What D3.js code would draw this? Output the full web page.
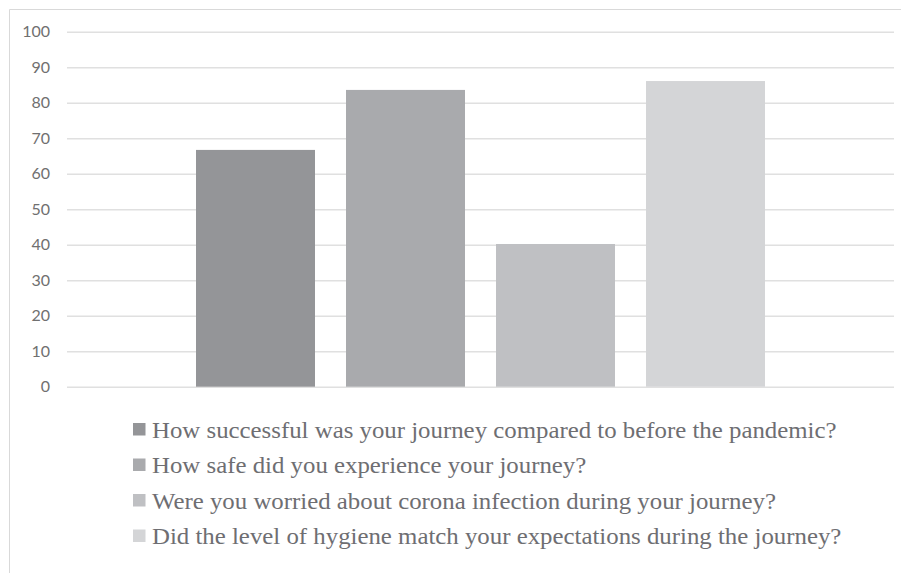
<!DOCTYPE html>
<html>
<head>
<meta charset="utf-8">
<script src="https://cdn.jsdelivr.net/npm/d3@7"></script>
<style>
  html, body { margin: 0; padding: 0; background: #fff; }
  svg { display: block; }
</style>
</head>
<body>
<svg id="chart" width="901" height="573"></svg>
<script>
// Survey questions (one series each) and their scores
const questions = [
  "How successful was your journey compared to before the pandemic?",
  "How safe did you experience your journey?",
  "Were you worried about corona infection during your journey?",
  "Did the level of hygiene match your expectations during the journey?"
];
const scores = [66.7, 83.6, 40.2, 86.1];
const yTicks = [0, 10, 20, 30, 40, 50, 60, 70, 80, 90, 100];
const barColors = ["#949598", "#a9aaad", "#bfc0c3", "#d4d5d7"];

const svg = d3.select("#chart");
const W = 901, H = 573;

// chart frame
svg.append("path")
  .attr("d", `M9.5,${H} V9.5 H${W}`)
  .attr("fill", "none")
  .attr("stroke", "#d9d9d9")
  .attr("stroke-width", 1);

const plot = { left: 67, right: 894, top: 31.7, bottom: 386.7 };

const y = d3.scaleLinear().domain([0, 100]).range([plot.bottom, plot.top]);

// single category spanning the plot, series clustered inside it
const xCat = d3.scaleBand().domain(["all"]).range([plot.left, plot.right])
  .paddingOuter(0.2267);
const xSeries = d3.scaleBand().domain(d3.range(questions.length))
  .range([xCat("all"), xCat("all") + xCat.bandwidth()])
  .paddingInner(0.2067).paddingOuter(0);

// gridlines + labels via axis
const yAxis = d3.axisLeft(y)
  .tickValues(yTicks)
  .tickSize(-(plot.right - plot.left))
  .tickPadding(17)
  .tickFormat(d3.format("d"));

const gy = svg.append("g")
  .attr("transform", `translate(${plot.left},0)`)
  .call(yAxis);
gy.select(".domain").remove();
gy.selectAll(".tick line")
  .attr("stroke", "#e0e0e0")
  .attr("stroke-width", 1.5);
gy.selectAll(".tick text")
  .attr("fill", "#707070")
  .style("font-family", "Lato, 'Open Sans', sans-serif")
  .style("font-size", "16px");

// bars
svg.append("g").selectAll("rect")
  .data(scores)
  .join("rect")
  .attr("x", (d, i) => xSeries(i))
  .attr("width", xSeries.bandwidth())
  .attr("y", d => y(d))
  .attr("height", d => y(0) - y(d))
  .attr("fill", (d, i) => barColors[i]);

// legend
const legend = svg.append("g").attr("transform", "translate(133,423)");
const rowH = 35.5;
const items = legend.selectAll("g")
  .data(questions)
  .join("g")
  .attr("transform", (d, i) => `translate(0,${i * rowH})`);
items.append("rect")
  .attr("width", 12.5).attr("height", 12.5)
  .attr("fill", (d, i) => barColors[i]);
items.append("text")
  .attr("transform", "translate(19,14.5) scale(1.08,1)")
  .attr("fill", "#6e6e72")
  .style("font-family", "'Liberation Serif', 'Times New Roman', serif")
  .style("font-size", "23px")
  .text(d => d);
</script>
</body>
</html>
